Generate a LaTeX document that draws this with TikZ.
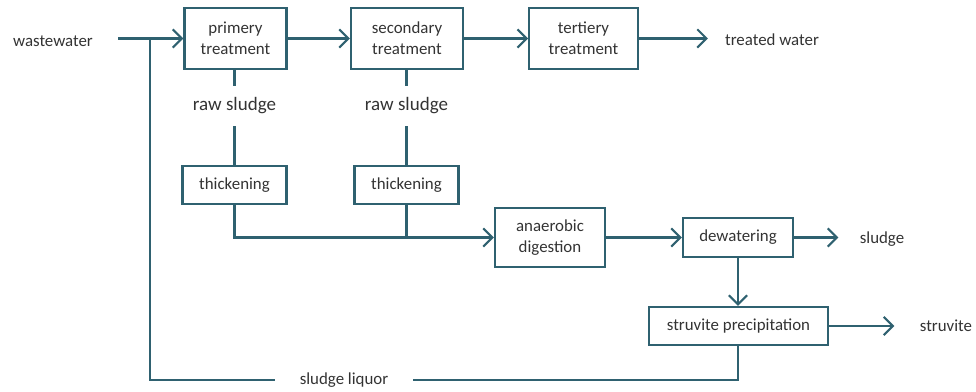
\documentclass[tikz,border=0pt]{standalone}
\usepackage{fontspec}
\setmainfont{Carlito}
\usetikzlibrary{arrows.meta}
\definecolor{teal1}{HTML}{2F6170}
\definecolor{txt}{HTML}{333333}
\begin{document}
\begin{tikzpicture}[x=0.025cm,y=-0.025cm,
  box/.style={draw=teal1,line width=1.5pt,text=txt,align=center,font=\fontsize{12}{15}\selectfont,inner sep=0pt},
  lbl/.style={text=txt,font=\fontsize{12}{15}\selectfont,inner xsep=12pt},
  rawlbl/.style={text=txt,font=\fontsize{13.5}{16}\selectfont,minimum height=1cm,inner sep=0pt},
  flow/.style={draw=teal1,line width=1.5pt},
  arr/.style={flow,-{Straight Barb[length=6.5pt,width=13pt,line width=1.5pt]}}]
\useasboundingbox (0,0) rectangle (976,392);
\node[lbl, inner xsep=18pt] (ww) at (53,41) {wastewater};
\node[box, minimum width=2.55cm, minimum height=1.52cm] (prim) at (235.5,38.5) {primery\\treatment};
\node[box, minimum width=2.8cm, minimum height=1.52cm] (sec) at (407,38.5) {secondary\\treatment};
\node[box, minimum width=2.72cm, minimum height=1.52cm] (tert) at (583.5,38.5) {tertiery\\treatment};
\node[lbl, inner xsep=12pt] (tw) at (772,40) {treated water};
\node[rawlbl] (raw1) at (234.5,106) {raw sludge};
\node[rawlbl] (raw2) at (406.5,106) {raw sludge};
\node[box, minimum width=2.6cm, minimum height=0.95cm] (thk1) at (234.5,185) {thickening};
\node[box, minimum width=2.6cm, minimum height=0.95cm] (thk2) at (406.5,185) {thickening};
\node[box, minimum width=2.75cm, minimum height=1.48cm] (anae) at (550,237.5) {anaerobic\\digestion};
\node[box, minimum width=2.75cm, minimum height=0.97cm] (dew) at (738,237.5) {dewatering};
\node[lbl, inner xsep=15pt] (sl) at (882,239) {sludge};
\node[box, minimum width=4.48cm, minimum height=0.95cm] (strp) at (738.5,326) {struvite precipitation};
\node[lbl, inner xsep=18pt] (stv) at (946,326) {struvite};
\node[lbl, minimum width=3.45cm, inner xsep=0pt] (liq) at (344,380) {sludge liquor};
\coordinate (mix) at (150,38.5);
\path[arr] (ww.east |- prim.west) -- (prim.west);
\path[arr] (prim) -- (sec);
\path[arr] (sec) -- (tert);
\path[arr] (tert.east) -- (tert.east -| tw.west);
\path[flow] (prim.south -| raw1) -- (raw1);
\path[flow] (raw1) -- (thk1);
\path[flow] (sec.south -| raw2) -- (raw2);
\path[flow] (raw2) -- (thk2);
\path[arr] (thk1.south) |- (anae.west);
\path[flow] (thk2.south) -- (thk2.south |- anae.west);
\path[arr] (anae) -- (dew);
\path[arr] (dew.east) -- (dew.east -| sl.west);
\path[arr] (dew.south) -- (dew.south |- strp.north);
\path[arr] (strp.east) -- (strp.east -| stv.west);
\path[flow] (dew.south |- strp.south) |- (liq.east);
\path[flow] (liq.west) -| (mix);
\end{tikzpicture}
\end{document}
